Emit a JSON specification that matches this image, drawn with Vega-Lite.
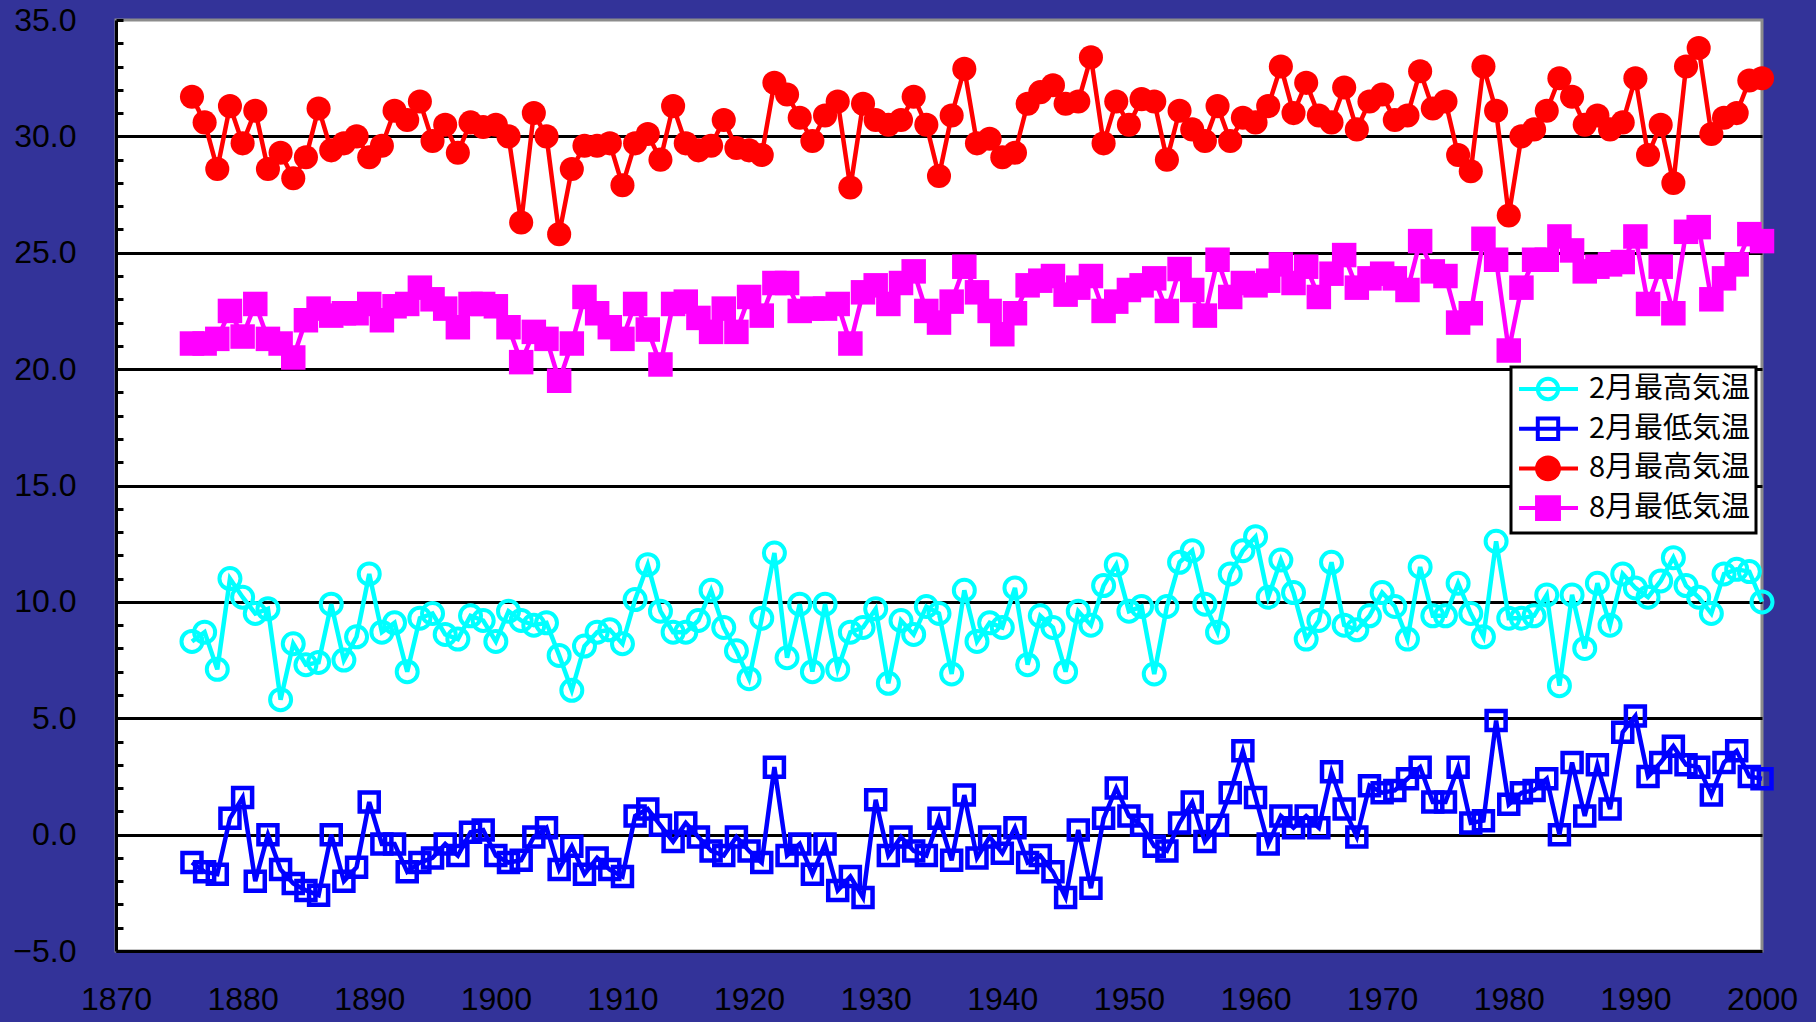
{
  "$schema": "https://vega.github.io/schema/vega-lite/v6.json",
  "width": 1646,
  "height": 931,
  "autosize": {"type": "none"},
  "padding": {"left": 116, "top": 20, "right": 54, "bottom": 71},
  "background": "#333399",
  "config": {
    "view": {"fill": "white", "stroke": "#8c8c8c", "strokeWidth": 3},
    "axis": {
      "title": null,
      "labelFont": "Liberation Sans",
      "labelFontSize": 32,
      "labelColor": "black",
      "domainColor": "black",
      "domainWidth": 3,
      "tickColor": "black",
      "tickWidth": 3
    },
    "legend": {"strokeWidth": 3}
  },
  "data": {
    "values": [
      {"year": 1876, "2月最高気温": 8.3, "2月最低気温": -1.2, "8月最高気温": 31.7, "8月最低気温": 21.1},
      {"year": 1877, "2月最高気温": 8.7, "2月最低気温": -1.6, "8月最高気温": 30.6, "8月最低気温": 21.1},
      {"year": 1878, "2月最高気温": 7.1, "2月最低気温": -1.7, "8月最高気温": 28.6, "8月最低気温": 21.3},
      {"year": 1879, "2月最高気温": 11.0, "2月最低気温": 0.7, "8月最高気温": 31.3, "8月最低気温": 22.5},
      {"year": 1880, "2月最高気温": 10.2, "2月最低気温": 1.6, "8月最高気温": 29.7, "8月最低気温": 21.4},
      {"year": 1881, "2月最高気温": 9.5, "2月最低気温": -2.0, "8月最高気温": 31.1, "8月最低気温": 22.8},
      {"year": 1882, "2月最高気温": 9.7, "2月最低気温": 0.0, "8月最高気温": 28.6, "8月最低気温": 21.3},
      {"year": 1883, "2月最高気温": 5.8, "2月最低気温": -1.5, "8月最高気温": 29.3, "8月最低気温": 21.1},
      {"year": 1884, "2月最高気温": 8.2, "2月最低気温": -2.1, "8月最高気温": 28.2, "8月最低気温": 20.5},
      {"year": 1885, "2月最高気温": 7.3, "2月最低気温": -2.4, "8月最高気温": 29.1, "8月最低気温": 22.1},
      {"year": 1886, "2月最高気温": 7.4, "2月最低気温": -2.6, "8月最高気温": 31.2, "8月最低気温": 22.6},
      {"year": 1887, "2月最高気温": 9.9, "2月最低気温": 0.0, "8月最高気温": 29.4, "8月最低気温": 22.3},
      {"year": 1888, "2月最高気温": 7.5, "2月最低気温": -2.0, "8月最高気温": 29.7, "8月最低気温": 22.4},
      {"year": 1889, "2月最高気温": 8.5, "2月最低気温": -1.4, "8月最高気温": 30.0, "8月最低気温": 22.4},
      {"year": 1890, "2月最高気温": 11.2, "2月最低気温": 1.4, "8月最高気温": 29.1, "8月最低気温": 22.8},
      {"year": 1891, "2月最高気温": 8.7, "2月最低気温": -0.4, "8月最高気温": 29.6, "8月最低気温": 22.1},
      {"year": 1892, "2月最高気温": 9.1, "2月最低気温": -0.4, "8月最高気温": 31.1, "8月最低気温": 22.7},
      {"year": 1893, "2月最高気温": 7.0, "2月最低気温": -1.6, "8月最高気温": 30.7, "8月最低気温": 22.8},
      {"year": 1894, "2月最高気温": 9.3, "2月最低気温": -1.2, "8月最高気温": 31.5, "8月最低気温": 23.5},
      {"year": 1895, "2月最高気温": 9.5, "2月最低気温": -1.0, "8月最高気温": 29.8, "8月最低気温": 23.0},
      {"year": 1896, "2月最高気温": 8.6, "2月最低気温": -0.4, "8月最高気温": 30.5, "8月最低気温": 22.6},
      {"year": 1897, "2月最高気温": 8.4, "2月最低気温": -0.9, "8月最高気温": 29.3, "8月最低気温": 21.8},
      {"year": 1898, "2月最高気温": 9.4, "2月最低気温": 0.1, "8月最高気温": 30.6, "8月最低気温": 22.8},
      {"year": 1899, "2月最高気温": 9.2, "2月最低気温": 0.2, "8月最高気温": 30.4, "8月最低気温": 22.8},
      {"year": 1900, "2月最高気温": 8.3, "2月最低気温": -0.9, "8月最高気温": 30.5, "8月最低気温": 22.7},
      {"year": 1901, "2月最高気温": 9.6, "2月最低気温": -1.2, "8月最高気温": 30.0, "8月最低気温": 21.8},
      {"year": 1902, "2月最高気温": 9.2, "2月最低気温": -1.1, "8月最高気温": 26.3, "8月最低気温": 20.3},
      {"year": 1903, "2月最高気温": 9.0, "2月最低気温": -0.1, "8月最高気温": 31.0, "8月最低気温": 21.6},
      {"year": 1904, "2月最高気温": 9.1, "2月最低気温": 0.3, "8月最高気温": 30.0, "8月最低気温": 21.3},
      {"year": 1905, "2月最高気温": 7.7, "2月最低気温": -1.5, "8月最高気温": 25.8, "8月最低気温": 19.5},
      {"year": 1906, "2月最高気温": 6.2, "2月最低気温": -0.5, "8月最高気温": 28.6, "8月最低気温": 21.1},
      {"year": 1907, "2月最高気温": 8.1, "2月最低気温": -1.7, "8月最高気温": 29.6, "8月最低気温": 23.1},
      {"year": 1908, "2月最高気温": 8.7, "2月最低気温": -1.0, "8月最高気温": 29.6, "8月最低気温": 22.4},
      {"year": 1909, "2月最高気温": 8.8, "2月最低気温": -1.5, "8月最高気温": 29.7, "8月最低気温": 21.8},
      {"year": 1910, "2月最高気温": 8.2, "2月最低気温": -1.8, "8月最高気温": 27.9, "8月最低気温": 21.3},
      {"year": 1911, "2月最高気温": 10.1, "2月最低気温": 0.8, "8月最高気温": 29.7, "8月最低気温": 22.8},
      {"year": 1912, "2月最高気温": 11.6, "2月最低気温": 1.1, "8月最高気温": 30.1, "8月最低気温": 21.7},
      {"year": 1913, "2月最高気温": 9.6, "2月最低気温": 0.4, "8月最高気温": 29.0, "8月最低気温": 20.2},
      {"year": 1914, "2月最高気温": 8.7, "2月最低気温": -0.3, "8月最高気温": 31.3, "8月最低気温": 22.8},
      {"year": 1915, "2月最高気温": 8.7, "2月最低気温": 0.5, "8月最高気温": 29.7, "8月最低気温": 22.9},
      {"year": 1916, "2月最高気温": 9.2, "2月最低気温": -0.1, "8月最高気温": 29.4, "8月最低気温": 22.2},
      {"year": 1917, "2月最高気温": 10.5, "2月最低気温": -0.7, "8月最高気温": 29.6, "8月最低気温": 21.6},
      {"year": 1918, "2月最高気温": 8.9, "2月最低気温": -0.9, "8月最高気温": 30.7, "8月最低気温": 22.6},
      {"year": 1919, "2月最高気温": 7.9, "2月最低気温": -0.1, "8月最高気温": 29.5, "8月最低気温": 21.6},
      {"year": 1920, "2月最高気温": 6.7, "2月最低気温": -0.7, "8月最高気温": 29.4, "8月最低気温": 23.1},
      {"year": 1921, "2月最高気温": 9.3, "2月最低気温": -1.2, "8月最高気温": 29.2, "8月最低気温": 22.3},
      {"year": 1922, "2月最高気温": 12.1, "2月最低気温": 2.9, "8月最高気温": 32.3, "8月最低気温": 23.7},
      {"year": 1923, "2月最高気温": 7.6, "2月最低気温": -0.9, "8月最高気温": 31.8, "8月最低気温": 23.7},
      {"year": 1924, "2月最高気温": 9.9, "2月最低気温": -0.4, "8月最高気温": 30.8, "8月最低気温": 22.5},
      {"year": 1925, "2月最高気温": 7.0, "2月最低気温": -1.7, "8月最高気温": 29.8, "8月最低気温": 22.6},
      {"year": 1926, "2月最高気温": 9.9, "2月最低気温": -0.4, "8月最高気温": 30.9, "8月最低気温": 22.6},
      {"year": 1927, "2月最高気温": 7.1, "2月最低気温": -2.4, "8月最高気温": 31.5, "8月最低気温": 22.8},
      {"year": 1928, "2月最高気温": 8.7, "2月最低気温": -1.8, "8月最高気温": 27.8, "8月最低気温": 21.1},
      {"year": 1929, "2月最高気温": 8.9, "2月最低気温": -2.7, "8月最高気温": 31.4, "8月最低気温": 23.3},
      {"year": 1930, "2月最高気温": 9.7, "2月最低気温": 1.5, "8月最高気温": 30.7, "8月最低気温": 23.6},
      {"year": 1931, "2月最高気温": 6.5, "2月最低気温": -0.9, "8月最高気温": 30.5, "8月最低気温": 22.8},
      {"year": 1932, "2月最高気温": 9.2, "2月最低気温": -0.1, "8月最高気温": 30.7, "8月最低気温": 23.7},
      {"year": 1933, "2月最高気温": 8.6, "2月最低気温": -0.7, "8月最高気温": 31.7, "8月最低気温": 24.2},
      {"year": 1934, "2月最高気温": 9.8, "2月最低気温": -0.9, "8月最高気温": 30.5, "8月最低気温": 22.5},
      {"year": 1935, "2月最高気温": 9.5, "2月最低気温": 0.7, "8月最高気温": 28.3, "8月最低気温": 22.0},
      {"year": 1936, "2月最高気温": 6.9, "2月最低気温": -1.1, "8月最高気温": 30.9, "8月最低気温": 22.9},
      {"year": 1937, "2月最高気温": 10.5, "2月最低気温": 1.7, "8月最高気温": 32.9, "8月最低気温": 24.4},
      {"year": 1938, "2月最高気温": 8.3, "2月最低気温": -1.0, "8月最高気温": 29.7, "8月最低気温": 23.3},
      {"year": 1939, "2月最高気温": 9.1, "2月最低気温": -0.1, "8月最高気温": 29.9, "8月最低気温": 22.5},
      {"year": 1940, "2月最高気温": 8.9, "2月最低気温": -0.8, "8月最高気温": 29.1, "8月最低気温": 21.5},
      {"year": 1941, "2月最高気温": 10.6, "2月最低気温": 0.3, "8月最高気温": 29.3, "8月最低気温": 22.4},
      {"year": 1942, "2月最高気温": 7.3, "2月最低気温": -1.2, "8月最高気温": 31.4, "8月最低気温": 23.6},
      {"year": 1943, "2月最高気温": 9.4, "2月最低気温": -0.9, "8月最高気温": 31.9, "8月最低気温": 23.8},
      {"year": 1944, "2月最高気温": 8.9, "2月最低気温": -1.6, "8月最高気温": 32.2, "8月最低気温": 24.0},
      {"year": 1945, "2月最高気温": 7.0, "2月最低気温": -2.7, "8月最高気温": 31.4, "8月最低気温": 23.2},
      {"year": 1946, "2月最高気温": 9.6, "2月最低気温": 0.2, "8月最高気温": 31.5, "8月最低気温": 23.5},
      {"year": 1947, "2月最高気温": 9.0, "2月最低気温": -2.3, "8月最高気温": 33.4, "8月最低気温": 24.0},
      {"year": 1948, "2月最高気温": 10.7, "2月最低気温": 0.7, "8月最高気温": 29.7, "8月最低気温": 22.5},
      {"year": 1949, "2月最高気温": 11.6, "2月最低気温": 2.0, "8月最高気温": 31.5, "8月最低気温": 22.9},
      {"year": 1950, "2月最高気温": 9.6, "2月最低気温": 0.8, "8月最高気温": 30.5, "8月最低気温": 23.4},
      {"year": 1951, "2月最高気温": 9.8, "2月最低気温": 0.4, "8月最高気温": 31.6, "8月最低気温": 23.6},
      {"year": 1952, "2月最高気温": 6.9, "2月最低気温": -0.5, "8月最高気温": 31.5, "8月最低気温": 23.9},
      {"year": 1953, "2月最高気温": 9.8, "2月最低気温": -0.7, "8月最高気温": 29.0, "8月最低気温": 22.5},
      {"year": 1954, "2月最高気温": 11.7, "2月最低気温": 0.5, "8月最高気温": 31.1, "8月最低気温": 24.3},
      {"year": 1955, "2月最高気温": 12.2, "2月最低気温": 1.4, "8月最高気温": 30.3, "8月最低気温": 23.4},
      {"year": 1956, "2月最高気温": 9.9, "2月最低気温": -0.3, "8月最高気温": 29.8, "8月最低気温": 22.3},
      {"year": 1957, "2月最高気温": 8.7, "2月最低気温": 0.4, "8月最高気温": 31.3, "8月最低気温": 24.7},
      {"year": 1958, "2月最高気温": 11.2, "2月最低気温": 1.8, "8月最高気温": 29.8, "8月最低気温": 23.1},
      {"year": 1959, "2月最高気温": 12.2, "2月最低気温": 3.6, "8月最高気温": 30.8, "8月最低気温": 23.7},
      {"year": 1960, "2月最高気温": 12.8, "2月最低気温": 1.6, "8月最高気温": 30.6, "8月最低気温": 23.6},
      {"year": 1961, "2月最高気温": 10.2, "2月最低気温": -0.4, "8月最高気温": 31.3, "8月最低気温": 23.8},
      {"year": 1962, "2月最高気温": 11.8, "2月最低気温": 0.8, "8月最高気温": 33.0, "8月最低気温": 24.5},
      {"year": 1963, "2月最高気温": 10.4, "2月最低気温": 0.3, "8月最高気温": 31.0, "8月最低気温": 23.7},
      {"year": 1964, "2月最高気温": 8.4, "2月最低気温": 0.8, "8月最高気温": 32.3, "8月最低気温": 24.4},
      {"year": 1965, "2月最高気温": 9.2, "2月最低気温": 0.3, "8月最高気温": 30.9, "8月最低気温": 23.1},
      {"year": 1966, "2月最高気温": 11.7, "2月最低気温": 2.7, "8月最高気温": 30.6, "8月最低気温": 24.1},
      {"year": 1967, "2月最高気温": 9.0, "2月最低気温": 1.1, "8月最高気温": 32.1, "8月最低気温": 24.9},
      {"year": 1968, "2月最高気温": 8.8, "2月最低気温": -0.1, "8月最高気温": 30.3, "8月最低気温": 23.5},
      {"year": 1969, "2月最高気温": 9.4, "2月最低気温": 2.1, "8月最高気温": 31.5, "8月最低気温": 23.9},
      {"year": 1970, "2月最高気温": 10.4, "2月最低気温": 1.8, "8月最高気温": 31.8, "8月最低気温": 24.1},
      {"year": 1971, "2月最高気温": 9.8, "2月最低気温": 1.9, "8月最高気温": 30.7, "8月最低気温": 23.9},
      {"year": 1972, "2月最高気温": 8.4, "2月最低気温": 2.4, "8月最高気温": 30.9, "8月最低気温": 23.4},
      {"year": 1973, "2月最高気温": 11.5, "2月最低気温": 2.9, "8月最高気温": 32.8, "8月最低気温": 25.5},
      {"year": 1974, "2月最高気温": 9.4, "2月最低気温": 1.4, "8月最高気温": 31.2, "8月最低気温": 24.2},
      {"year": 1975, "2月最高気温": 9.4, "2月最低気温": 1.4, "8月最高気温": 31.5, "8月最低気温": 24.0},
      {"year": 1976, "2月最高気温": 10.8, "2月最低気温": 2.9, "8月最高気温": 29.2, "8月最低気温": 22.0},
      {"year": 1977, "2月最高気温": 9.5, "2月最低気温": 0.5, "8月最高気温": 28.5, "8月最低気温": 22.4},
      {"year": 1978, "2月最高気温": 8.5, "2月最低気温": 0.6, "8月最高気温": 33.0, "8月最低気温": 25.6},
      {"year": 1979, "2月最高気温": 12.6, "2月最低気温": 4.9, "8月最高気温": 31.1, "8月最低気温": 24.7},
      {"year": 1980, "2月最高気温": 9.3, "2月最低気温": 1.3, "8月最高気温": 26.6, "8月最低気温": 20.8},
      {"year": 1981, "2月最高気温": 9.3, "2月最低気温": 1.8, "8月最高気温": 30.0, "8月最低気温": 23.5},
      {"year": 1982, "2月最高気温": 9.4, "2月最低気温": 1.9, "8月最高気温": 30.3, "8月最低気温": 24.7},
      {"year": 1983, "2月最高気温": 10.3, "2月最低気温": 2.4, "8月最高気温": 31.1, "8月最低気温": 24.7},
      {"year": 1984, "2月最高気温": 6.4, "2月最低気温": 0.0, "8月最高気温": 32.5, "8月最低気温": 25.7},
      {"year": 1985, "2月最高気温": 10.3, "2月最低気温": 3.1, "8月最高気温": 31.7, "8月最低気温": 25.1},
      {"year": 1986, "2月最高気温": 8.0, "2月最低気温": 0.8, "8月最高気温": 30.5, "8月最低気温": 24.2},
      {"year": 1987, "2月最高気温": 10.8, "2月最低気温": 3.0, "8月最高気温": 30.9, "8月最低気温": 24.4},
      {"year": 1988, "2月最高気温": 9.0, "2月最低気温": 1.1, "8月最高気温": 30.3, "8月最低気温": 24.5},
      {"year": 1989, "2月最高気温": 11.2, "2月最低気温": 4.4, "8月最高気温": 30.6, "8月最低気温": 24.6},
      {"year": 1990, "2月最高気温": 10.6, "2月最低気温": 5.1, "8月最高気温": 32.5, "8月最低気温": 25.7},
      {"year": 1991, "2月最高気温": 10.2, "2月最低気温": 2.5, "8月最高気温": 29.2, "8月最低気温": 22.8},
      {"year": 1992, "2月最高気温": 10.9, "2月最低気温": 3.1, "8月最高気温": 30.5, "8月最低気温": 24.4},
      {"year": 1993, "2月最高気温": 11.9, "2月最低気温": 3.8, "8月最高気温": 28.0, "8月最低気温": 22.4},
      {"year": 1994, "2月最高気温": 10.7, "2月最低気温": 3.0, "8月最高気温": 33.0, "8月最低気温": 25.9},
      {"year": 1995, "2月最高気温": 10.2, "2月最低気温": 2.9, "8月最高気温": 33.8, "8月最低気温": 26.1},
      {"year": 1996, "2月最高気温": 9.5, "2月最低気温": 1.7, "8月最高気温": 30.1, "8月最低気温": 23.0},
      {"year": 1997, "2月最高気温": 11.2, "2月最低気温": 3.1, "8月最高気温": 30.8, "8月最低気温": 23.9},
      {"year": 1998, "2月最高気温": 11.4, "2月最低気温": 3.6, "8月最高気温": 31.0, "8月最低気温": 24.5},
      {"year": 1999, "2月最高気温": 11.3, "2月最低気温": 2.5, "8月最高気温": 32.4, "8月最低気温": 25.8},
      {"year": 2000, "2月最高気温": 10.0, "2月最低気温": 2.4, "8月最高気温": 32.5, "8月最低気温": 25.5}
    ]
  },
  "transform": [
    {"fold": ["2月最高気温", "2月最低気温", "8月最高気温", "8月最低気温"], "as": ["series", "value"]}
  ],
  "encoding": {
    "x": {
      "field": "year",
      "type": "quantitative",
      "scale": {"domain": [1870, 2000], "nice": false, "zero": false},
      "axis": {
        "values": [1870, 1880, 1890, 1900, 1910, 1920, 1930, 1940, 1950, 1960, 1970, 1980, 1990, 2000],
        "format": "d",
        "ticks": false,
        "grid": false,
        "labelFlush": false,
        "labelPadding": 33
      }
    },
    "y": {
      "field": "value",
      "type": "quantitative",
      "scale": {"domain": [-5, 35], "nice": false, "zero": false},
      "axis": {
        "values": [-5, -4, -3, -2, -1, 0, 1, 2, 3, 4, 5, 6, 7, 8, 9, 10, 11, 12, 13, 14, 15, 16, 17, 18, 19, 20, 21, 22, 23, 24, 25, 26, 27, 28, 29, 30, 31, 32, 33, 34, 35],
        "labelExpr": "datum.value % 5 === 0 ? format(datum.value, '.1f') : ''",
        "tickSize": -7,
        "labelPadding": 47,
        "grid": true,
        "gridColor": "black",
        "gridWidth": 3,
        "gridOpacity": {"condition": {"test": "datum.value % 5 !== 0 || datum.value >= 35 || datum.value <= -5", "value": 0}, "value": 1}
      }
    }
  },
  "layer": [
    {
      "description": "Legend key: line-through-marker glyph per series; the marks themselves stay transparent",
      "mark": {"type": "point", "opacity": 0},
      "encoding": {
        "shape": {
          "field": "series",
          "type": "nominal",
          "scale": {
            "domain": ["2月最高気温", "2月最低気温", "8月最高気温", "8月最低気温"],
            "range": [
              "M-0.93,0H3M0.32,0A0.68,0.68 0 1 1 1.68,0A0.68,0.68 0 1 1 0.32,0Z",
              "M-0.93,0H3M0.32,-0.68H1.68V0.68H0.32Z",
              "M-0.93,0H3M0.27,0A0.73,0.73 0 1 1 1.73,0A0.73,0.73 0 1 1 0.27,0Z",
              "M-0.93,0H3M0.27,-0.73H1.73V0.73H0.27Z"
            ]
          },
          "legend": {
            "title": null,
            "orient": "none",
            "direction": "vertical",
            "legendX": 1395,
            "legendY": 347,
            "fillColor": "white",
            "strokeColor": "black",
            "padding": 5,
            "rowPadding": 1.7,
            "symbolSize": 900,
            "symbolStrokeWidth": 4,
            "symbolOpacity": 1,
            "labelFont": "Noto Sans CJK JP",
            "labelFontSize": 29,
            "labelColor": "black",
            "labelOffset": 39,
            "labelLimit": 300
          }
        },
        "stroke": {
          "field": "series",
          "type": "nominal",
          "scale": {
            "domain": ["2月最高気温", "2月最低気温", "8月最高気温", "8月最低気温"],
            "range": ["#00ffff", "#0000ff", "#ff0000", "#ff00ff"]
          },
          "legend": {
            "title": null,
            "orient": "none",
            "direction": "vertical",
            "legendX": 1395,
            "legendY": 347,
            "fillColor": "white",
            "strokeColor": "black",
            "padding": 5,
            "rowPadding": 1.7,
            "symbolSize": 900,
            "symbolStrokeWidth": 4,
            "symbolOpacity": 1,
            "labelFont": "Noto Sans CJK JP",
            "labelFontSize": 29,
            "labelColor": "black",
            "labelOffset": 39,
            "labelLimit": 300
          }
        },
        "fill": {
          "field": "series",
          "type": "nominal",
          "scale": {
            "domain": ["2月最高気温", "2月最低気温", "8月最高気温", "8月最低気温"],
            "range": ["transparent", "transparent", "#ff0000", "#ff00ff"]
          },
          "legend": {
            "title": null,
            "orient": "none",
            "direction": "vertical",
            "legendX": 1395,
            "legendY": 347,
            "fillColor": "white",
            "strokeColor": "black",
            "padding": 5,
            "rowPadding": 1.7,
            "symbolSize": 900,
            "symbolStrokeWidth": 4,
            "symbolOpacity": 1,
            "labelFont": "Noto Sans CJK JP",
            "labelFontSize": 29,
            "labelColor": "black",
            "labelOffset": 39,
            "labelLimit": 300
          }
        }
      }
    },
    {
      "mark": {"type": "line", "strokeWidth": 4.5},
      "encoding": {
        "color": {
          "field": "series",
          "type": "nominal",
          "scale": {
            "domain": ["2月最高気温", "2月最低気温", "8月最高気温", "8月最低気温"],
            "range": ["#00ffff", "#0000ff", "#ff0000", "#ff00ff"]
          },
          "legend": null
        }
      }
    },
    {
      "transform": [{"filter": "datum.series === '2月最高気温'"}],
      "mark": {"type": "point", "shape": "circle", "filled": false, "color": "#00ffff", "strokeWidth": 4, "size": 441, "opacity": 1}
    },
    {
      "transform": [{"filter": "datum.series === '2月最低気温'"}],
      "mark": {"type": "point", "shape": "square", "filled": false, "color": "#0000ff", "strokeWidth": 4.5, "size": 361, "opacity": 1}
    },
    {
      "transform": [{"filter": "datum.series === '8月最高気温'"}],
      "mark": {"type": "point", "shape": "circle", "filled": true, "color": "#ff0000", "size": 580, "opacity": 1}
    },
    {
      "transform": [{"filter": "datum.series === '8月最低気温'"}],
      "mark": {"type": "point", "shape": "square", "filled": true, "color": "#ff00ff", "size": 600, "opacity": 1}
    }
  ]
}
